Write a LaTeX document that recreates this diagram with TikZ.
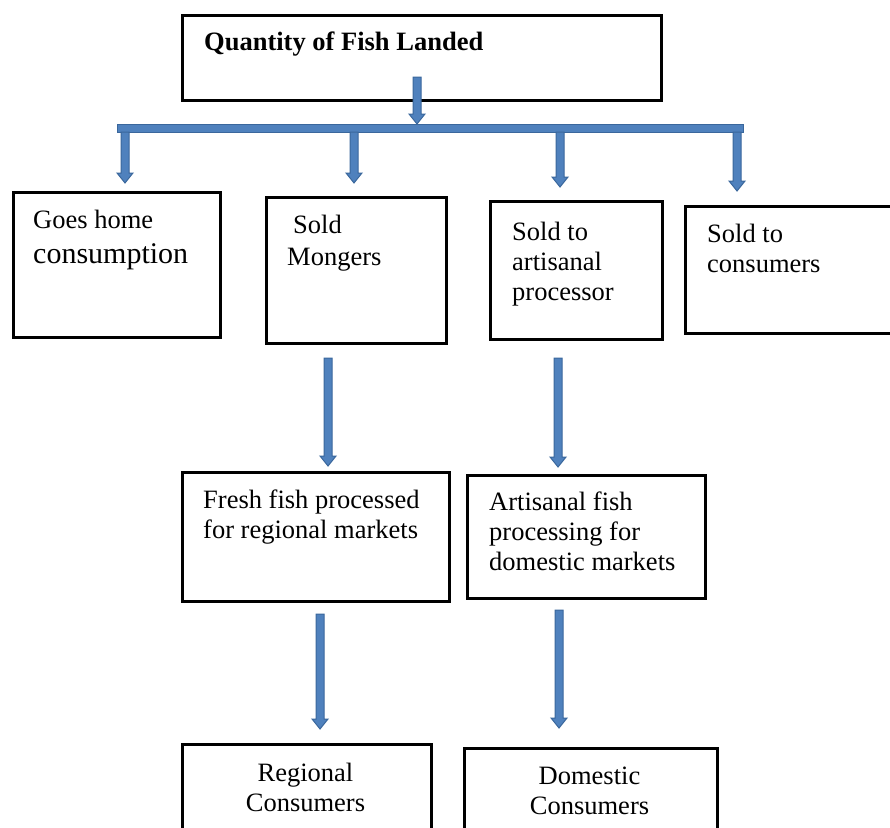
\documentclass[tikz,border=0pt]{standalone}
\usepackage{fontspec}
\setmainfont{Liberation Serif}
\usetikzlibrary{calc}
\definecolor{arrowfill}{HTML}{4F81BD}
\definecolor{arrowline}{HTML}{3A679C}
\tikzset{
	box/.style={draw, line width=3pt, inner sep=0pt, anchor=north west},
	txt/.style={inner sep=0pt, anchor=base west, align=left, font=\fontsize{26.5}{30}\selectfont},
	blockarrow/.style={fill=arrowfill, draw=arrowline, line width=1pt}
}
% block arrow pointing down, from #1 to #2
\newcommand{\flow}[2]{
	\filldraw[blockarrow] let \p1=(#1), \p2=(#2) in (\x1-4pt, \y1)--(\x1-4pt, \y2+10pt)--(\x1-8pt, \y2+10pt)--(\x1, \y2)
		--(\x1+8pt, \y2+10pt)--(\x1+4pt, \y2+10pt)--(\x1+4pt, \y1)--cycle;
}

\begin{document}
\begin{tikzpicture}[x=1pt, y=-1pt]
	\useasboundingbox (0, 0) rectangle (890, 827);
	\clip (0, 0) rectangle (890, 827);
	% boxes
	\node[box, minimum width=479pt, minimum height=85pt] (landed) at (181, 14) {};
	\node[box, minimum width=207pt, minimum height=145pt] (home) at (12, 191) {};
	\node[box, minimum width=180pt, minimum height=146pt] (mongers) at (265, 196) {};
	\node[box, minimum width=172pt, minimum height=138pt] (artisan) at (489, 200) {};
	\node[box, minimum width=230pt, minimum height=127pt] (consumers) at (684, 205) {};
	\node[box, minimum width=267pt, minimum height=129pt] (fresh) at (181, 471) {};
	\node[box, minimum width=238pt, minimum height=123pt] (artproc) at (466, 474) {};
	\node[box, minimum width=249pt, minimum height=120pt] (regional) at (181, 743) {};
	\node[box, minimum width=253pt, minimum height=120pt] (domestic) at (463, 747) {};
	% texts (multi-line ones sit on the baseline of their last line)
	\node[txt, font=\fontsize{26.5}{30}\selectfont\bfseries] (landed-t) at (204, 50) {Quantity of Fish Landed};
	\node[txt] (home-t) at (33, 228) {Goes home};
	\node[txt, font=\fontsize{30}{34}\selectfont] (home-t2) at (33, 263) {consumption};
	\node[txt] (mongers-t) at (287, 265) {\hspace*{6pt}Sold\\[2pt]Mongers};
	\node[txt] (artisan-t) at (512, 300) {Sold to\\artisanal\\processor};
	\node[txt] (consumers-t) at (707, 272) {Sold to\\consumers};
	\node[txt] (fresh-t) at (203, 538) {Fresh fish processed\\for regional markets};
	\node[txt] (artproc-t) at (489, 570) {Artisanal fish\\processing for\\domestic markets};
	\node[txt, anchor=base, align=center] (regional-t) at (305.5, 811) {Regional\\Consumers};
	\node[txt, anchor=base, align=center] (domestic-t) at (589.5, 814) {Domestic\\Consumers};
	% bar and arrows
	\node[blockarrow, inner sep=0pt, anchor=north west, minimum width=626pt, minimum height=8pt] (bar) at (117, 124) {};
	\coordinate (a0) at (417, 77); \coordinate (b0) at (417, 124);
	\coordinate (a1) at (125, 132); \coordinate (b1) at (125, 183);
	\coordinate (a2) at (354, 132); \coordinate (b2) at (354, 183);
	\coordinate (a3) at (560, 132); \coordinate (b3) at (560, 187);
	\coordinate (a4) at (737, 132); \coordinate (b4) at (737, 191);
	\coordinate (a5) at (328, 358); \coordinate (b5) at (328, 466);
	\coordinate (a6) at (558, 358); \coordinate (b6) at (558, 467);
	\coordinate (a7) at (320, 614); \coordinate (b7) at (320, 729);
	\coordinate (a8) at (559, 610); \coordinate (b8) at (559, 728);
	\foreach \i in {0,...,8}
		\flow{a\i}{b\i};
\end{tikzpicture}
\end{document}
